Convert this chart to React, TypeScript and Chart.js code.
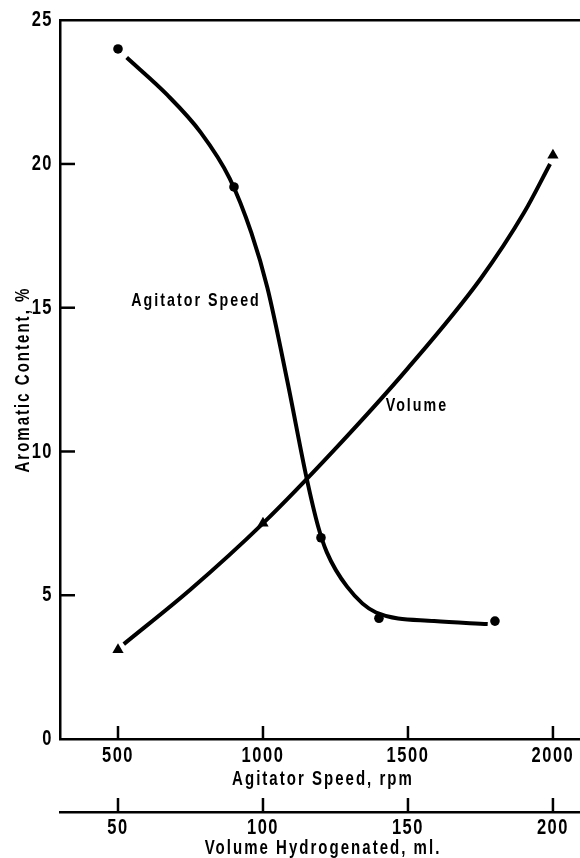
import React, { useEffect, useRef } from "react";
import { Chart, registerables } from "chart.js";

Chart.register(...registerables);

// ---- Data ----
// Measured points (markers)
const speedRpm = [500, 900, 1200, 1400, 1800];
const speedAromatic = [24.0, 19.2, 7.0, 4.2, 4.1];

const volumeMl = [50, 100, 200];
const volumeAromatic = [3.1, 7.5, 20.3];

// Hand-drawn smooth curves
const speedCurveRpm = [530, 670, 785, 885, 960, 1015, 1085, 1150, 1190, 1220, 1290, 1390, 1590, 1775];
const speedCurveAromatic = [23.7, 22.4, 21.1, 19.5, 17.6, 15.7, 12.4, 9.1, 7.4, 6.5, 5.3, 4.4, 4.1, 4.0];

const volumeCurveMl = [52, 75, 100, 125, 150, 175, 190, 199];
const volumeCurveAromatic = [3.3, 5.2, 7.5, 10.1, 12.9, 16.0, 18.3, 20.0];

// Axis ticks
const speedTicks = [500, 1000, 1500, 2000];
const volumeTicks = [50, 100, 150, 200];
const aromaticTicks = [0, 5, 10, 15, 20, 25];

// Axis ranges (the plot runs off the right edge of the picture)
const speedMin = 300;
const speedMax = 2114;
const volumeMin = 30;
const volumeMax = 211.4;

// Text
const yTitle = "Aromatic Content, %";
const xTitle = "Agitator Speed, rpm";
const x2Title = "Volume Hydrogenated, ml.";
const seriesLabels = [
  { text: "Agitator Speed", x: 769, y: 15.25 },
  { text: "Volume", x: 1531, y: 11.6 },
];

const FAMILY = '"Liberation Sans", Arial, sans-serif';
const SQUEEZE = 0.75;

const pts = (xs: number[], ys: number[]) => xs.map((x, i) => ({ x, y: ys[i] }));

const framePlugin = {
  id: "frame",
  afterDraw(chart: any) {
    const { ctx, chartArea } = chart;
    ctx.save();
    ctx.strokeStyle = "#000";
    ctx.fillStyle = "#000";
    ctx.lineWidth = 2.5;
    const line = (x1: number, y1: number, x2: number, y2: number) => {
      ctx.beginPath();
      ctx.moveTo(x1, y1);
      ctx.lineTo(x2, y2);
      ctx.stroke();
    };
    // top border
    line(chartArea.left - 1, chartArea.top, chartArea.right, chartArea.top);
    // inner ticks on y
    const ys = chart.scales.y;
    for (const t of ys.ticks) {
      if (t.value === 0 || t.value === 25) continue;
      const py = ys.getPixelForValue(t.value);
      line(chartArea.left, py, chartArea.left + 15, py);
    }
    const xs = chart.scales.x;
    for (const t of xs.ticks) {
      const px = xs.getPixelForValue(t.value);
      line(px, xs.top, px, xs.top - 13);
    }
    const x2s = chart.scales.x2;
    for (const t of x2s.ticks) {
      const px = x2s.getPixelForValue(t.value);
      line(px, x2s.top, px, x2s.top - 14);
    }
    // series labels
    ctx.font = `bold 19px ${FAMILY}`;
    ctx.textAlign = "center";
    ctx.textBaseline = "middle";
    for (const l of seriesLabels) {
      ctx.fillText(l.text, xs.getPixelForValue(l.x), ys.getPixelForValue(l.y));
    }
    ctx.restore();
  },
};

export default function App() {
  const ref = useRef<HTMLCanvasElement>(null);

  useEffect(() => {
    const canvas = ref.current;
    if (!canvas) return;
    // condensed, letter-spaced lettering: squeeze every text horizontally about its anchor
    const c2d: any = canvas.getContext("2d");
    if (c2d && !c2d.__squeezed) {
      const orig = c2d.fillText.bind(c2d);
      c2d.fillText = (t: string, x: number, y: number, mw?: number) => {
        c2d.save();
        try {
          c2d.letterSpacing = /22px/.test(c2d.font) ? "2px" : "2.7px";
        } catch (e) {}
        c2d.translate(x, y);
        c2d.scale(SQUEEZE, 1);
        if (mw === undefined || mw === null) orig(t, 0, 0);
        else orig(t, 0, 0, mw / SQUEEZE);
        c2d.restore();
      };
      c2d.__squeezed = true;
    }
    const tickFont = { family: FAMILY, size: 22, weight: "bold" as const };
    const titleFont = { family: FAMILY, size: 20, weight: "bold" as const };
    const plain = (v: any) => String(v);
    const chart = new Chart(canvas, {
      type: "scatter",
      data: {
        datasets: [
          {
            label: "Agitator Speed curve",
            data: pts(speedCurveRpm, speedCurveAromatic),
            xAxisID: "x",
            showLine: true,
            borderColor: "#000",
            borderWidth: 4,
            pointRadius: 0,
            cubicInterpolationMode: "monotone",
            fill: false,
          },
          {
            label: "Agitator Speed",
            data: pts(speedRpm, speedAromatic),
            xAxisID: "x",
            showLine: false,
            pointStyle: "circle",
            pointRadius: 4.8,
            backgroundColor: "#000",
            borderColor: "#000",
            borderWidth: 0,
          },
          {
            label: "Volume curve",
            data: pts(volumeCurveMl, volumeCurveAromatic),
            xAxisID: "x2",
            showLine: true,
            borderColor: "#000",
            borderWidth: 4,
            pointRadius: 0,
            cubicInterpolationMode: "monotone",
            fill: false,
          },
          {
            label: "Volume",
            data: pts(volumeMl, volumeAromatic),
            xAxisID: "x2",
            showLine: false,
            pointStyle: "triangle",
            pointRadius: 6.5,
            backgroundColor: "#000",
            borderColor: "#000",
            borderWidth: 0,
          },
        ],
      },
      options: {
        responsive: false,
        animation: false,
        devicePixelRatio: 1,
        layout: { autoPadding: false, padding: { top: 19, right: 0, left: 0, bottom: 0 } },
        plugins: {
          legend: { display: false },
          tooltip: { enabled: false },
        },
        scales: {
          x: {
            type: "linear",
            position: "bottom",
            weight: 1,
            min: speedMin,
            max: speedMax,
            afterBuildTicks: (s: any) => {
              s.ticks = speedTicks.map((v) => ({ value: v }));
            },
            afterFit: (s: any) => {
              s.height = 73;
            },
            grid: { display: false, drawTicks: false },
            border: { display: true, color: "#000", width: 2.5 },
            ticks: { padding: 4, color: "#000", font: tickFont, maxRotation: 0, autoSkip: false, callback: plain },
            title: {
              display: true,
              text: xTitle,
              color: "#000",
              font: titleFont,
              padding: { top: 0, bottom: 21 },
            },
          },
          x2: {
            type: "linear",
            position: "bottom",
            weight: 2,
            min: volumeMin,
            max: volumeMax,
            afterBuildTicks: (s: any) => {
              s.ticks = volumeTicks.map((v) => ({ value: v }));
            },
            afterFit: (s: any) => {
              s.height = 46;
            },
            grid: { display: false, drawTicks: false },
            border: { display: true, color: "#000", width: 2.5 },
            ticks: { padding: 3, color: "#000", font: tickFont, maxRotation: 0, autoSkip: false, callback: plain },
            title: {
              display: true,
              text: x2Title,
              color: "#000",
              font: { ...titleFont, lineHeight: 1 },
              padding: { top: 0, bottom: 0 },
            },
          },
          y: {
            type: "linear",
            position: "left",
            min: 0,
            max: 25,
            afterBuildTicks: (s: any) => {
              s.ticks = aromaticTicks.map((v) => ({ value: v }));
            },
            afterFit: (s: any) => {
              s.width = 60;
            },
            grid: { display: false, drawTicks: false },
            border: { display: true, color: "#000", width: 2.5 },
            ticks: { padding: 7, color: "#000", font: tickFont, autoSkip: false, callback: plain },
            title: {
              display: true,
              text: yTitle,
              color: "#000",
              font: titleFont,
              padding: { top: 11, bottom: 0 },
            },
          },
        },
      } as any,
      plugins: [framePlugin],
    });
    return () => chart.destroy();
  }, []);

  return (
    <div style={{ position: "absolute", left: 0, top: 0, width: 580, height: 858, overflow: "hidden", background: "#fff" }}>
      <canvas ref={ref} width={586} height={858} style={{ display: "block" }} />
    </div>
  );
}
